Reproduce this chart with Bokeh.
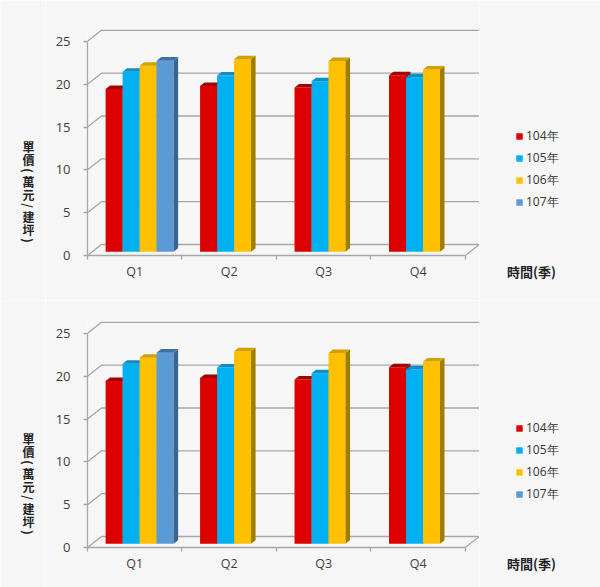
import math
from bokeh.plotting import figure
from bokeh.models import Range1d, FixedTicker, Legend, LegendItem
from bokeh.layouts import column, row
from bokeh.core.properties import value
from bokeh.embed import file_html
from bokeh.resources import INLINE

# ---------------- data ----------------
quarters = ["Q1", "Q2", "Q3", "Q4"]
series_names = ["104年", "105年", "106年", "107年"]
v104 = [19.0, 19.35, 19.15, 20.6]
v105 = [21.0, 20.55, 19.9, 20.35]
v106 = [21.7, 22.45, 22.25, 21.25]
v107 = [22.3, None, None, None]
series_values = [v104, v105, v106, v107]
y_ticks = [0, 5, 10, 15, 20, 25]
y_title = "單價(萬元/建坪)"
x_title = "時間(季)"

# ---------------- style ----------------
front_colors = ["#DC0000", "#00B0F0", "#FFC000", "#5B9BD5"]
top_colors = ["#A30000", "#0A8FC8", "#D2A000", "#3F72A3"]
side_colors = ["#8A0000", "#0079AD", "#A07C00", "#3A6591"]
BG = "#F6F6F6"
GRID = "#A6A6A6"
TXT = "#404040"
NUM_FONT = "Open Sans"
CJK_FONT = "Noto Sans CJK TC"

LEFT_W = 45            # figure holding the vertical y title
MAIN_BL = 87 - LEFT_W  # border for the y axis labels
FRAME_W, FRAME_H = 392, 227
RIGHT_W = 600 - LEFT_W - MAIN_BL - FRAME_W
X_END, Y_END = 4.15, 26.5
PXX = FRAME_W / X_END
PXY = FRAME_H / Y_END
DX = 14 / PXX          # depth offset of back wall (data units)
DY = 11 / PXY
F0, F1 = 0.35, 0.67    # depth fraction occupied by bars
SLOT = 0.18            # bar width in category units
NS = len(series_names)
Y_MAX = y_ticks[-1]


def side_fig(width, height):
    f = figure(width=width, height=height,
               x_range=Range1d(0, width), y_range=Range1d(0, height),
               x_axis_type=None, y_axis_type=None,
               output_backend="svg", toolbar_location=None,
               min_border=0, frame_align=False,
               background_fill_color=BG,
               border_fill_color=BG, outline_line_color=None)
    f.xgrid.visible = False
    f.ygrid.visible = False
    return f


def make_panel(height, top_border):
    bottom_border = height - top_border - FRAME_H
    base = bottom_border  # y of main frame bottom, from figure bottom

    # ---------- main chart ----------
    p = figure(width=MAIN_BL + FRAME_W, height=height,
               x_range=Range1d(0, X_END), y_range=Range1d(0, Y_END),
               output_backend="svg", toolbar_location=None,
               min_border_left=MAIN_BL, min_border_right=0,
               min_border_top=top_border, min_border_bottom=bottom_border,
               frame_align=False,
               background_fill_color=BG, border_fill_color=BG,
               outline_line_color=None)
    p.xgrid.visible = False
    p.ygrid.visible = False

    gx = [[0, DX, len(quarters) + DX] for _ in y_ticks]
    gy = [[t, t + DY, t + DY] for t in y_ticks]
    gx.append([len(quarters), len(quarters) + DX])
    gy.append([0, DY])
    p.multi_line(gx, gy, line_color=GRID, line_width=1.3)

    bx0 = F0 * DX
    by0 = F0 * DY
    ddx = (F1 - F0) * DX
    ddy = (F1 - F0) * DY
    for j, vals in enumerate(series_values):
        xs_c, tops = [], []
        for i, v in enumerate(vals):
            if v is None:
                continue
            xs_c.append(i + 0.5 - NS * SLOT / 2 + (j + 0.5) * SLOT + bx0)
            tops.append(v + by0)
        p.vbar(x=xs_c, top=tops, bottom=by0, width=SLOT,
               fill_color=front_colors[j], line_color=None)
        top_xs, top_ys, side_xs, side_ys = [], [], [], []
        for xc, tp in zip(xs_c, tops):
            x0, x1 = xc - SLOT / 2, xc + SLOT / 2
            top_xs.append([x0, x1, x1 + ddx, x0 + ddx])
            top_ys.append([tp, tp, tp + ddy, tp + ddy])
            side_xs.append([x1, x1 + ddx, x1 + ddx, x1])
            side_ys.append([by0, by0 + ddy, tp + ddy, tp])
        p.patches(top_xs, top_ys, fill_color=top_colors[j], line_color=None)
        p.patches(side_xs, side_ys, fill_color=side_colors[j], line_color=None)

    ya = p.yaxis[0]
    ya.ticker = FixedTicker(ticks=y_ticks, minor_ticks=[])
    ya.bounds = (0, Y_MAX)
    ya.axis_line_color = GRID
    ya.axis_line_width = 1.3
    ya.major_tick_line_color = GRID
    ya.major_tick_line_width = 1.3
    ya.major_tick_out = 4
    ya.major_tick_in = 0
    ya.minor_tick_line_color = None
    ya.major_label_standoff = 13
    ya.major_label_text_font = NUM_FONT
    ya.major_label_text_font_size = "13px"
    ya.major_label_text_color = TXT

    xa = p.xaxis[0]
    centers = [i + 0.5 for i in range(len(quarters))]
    xa.ticker = FixedTicker(ticks=centers, minor_ticks=list(range(len(quarters) + 1)))
    xa.major_label_overrides = {c: q for c, q in zip(centers, quarters)}
    xa.bounds = (0, len(quarters))
    xa.axis_line_color = GRID
    xa.axis_line_width = 1.3
    xa.major_tick_line_color = None
    xa.major_tick_out = 0
    xa.major_tick_in = 0
    xa.minor_tick_line_color = GRID
    xa.minor_tick_line_width = 1.3
    xa.minor_tick_out = 4
    xa.minor_tick_in = 0
    xa.major_label_standoff = 3
    xa.major_label_text_font = NUM_FONT
    xa.major_label_text_font_size = "12.5px"
    xa.major_label_text_color = TXT

    # ---------- left: vertical y title ----------
    lf = side_fig(LEFT_W, height)
    chars, ys, angles = [], [], []
    up = 115.5
    prev_half = None
    for ch in y_title:
        is_cjk = ord(ch) > 0x2E80
        half = 6.5 if is_cjk else 4.5
        up -= half if prev_half is None else prev_half + half
        prev_half = half
        chars.append(ch)
        ys.append(base + up)
        angles.append(0 if is_cjk else -math.pi / 2)
    lf.text(x=[28] * len(chars), y=ys, text=chars, angle=angles,
            text_font=value(CJK_FONT), text_font_size="12px",
            text_font_style="bold", text_color="#222222",
            text_align="center", text_baseline="middle")

    # ---------- right: legend + x title ----------
    rf = side_fig(RIGHT_W, height)
    items = []
    for j, name in enumerate(series_names):
        # legend key only: a single undefined bar, nothing is drawn
        r = rf.vbar(x=[0], top=[float("nan")], width=1,
                    fill_color=front_colors[j], line_color=None)
        items.append(LegendItem(label=name, renderers=[r]))
    legend = Legend(items=items, location=(36, base + 44),
                    orientation="vertical", glyph_width=8, glyph_height=8,
                    label_standoff=3, spacing=4, padding=0, margin=0,
                    label_height=15, label_text_font=NUM_FONT,
                    label_text_font_size="12px", label_text_color="#333333",
                    border_line_color=None, background_fill_alpha=0)
    rf.add_layout(legend)
    rf.text(x=[52], y=[base - 15.5], text=[x_title],
            text_font=value(CJK_FONT), text_font_size="13px",
            text_font_style="bold", text_color="#222222",
            text_align="center", text_baseline="middle")

    return row(lf, p, rf, spacing=0)


panel1 = make_panel(300, 28)
panel2 = make_panel(287, 20)
layout = column(panel1, panel2, spacing=0)

open("out.html", "w").write(file_html(layout, INLINE))
